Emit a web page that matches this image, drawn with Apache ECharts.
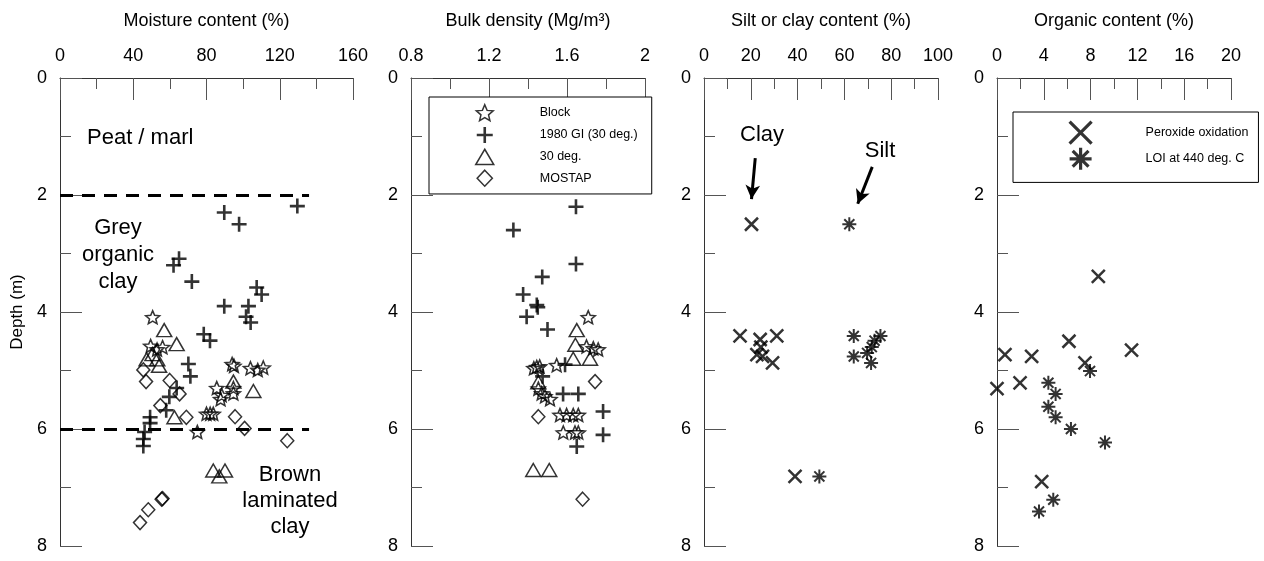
<!DOCTYPE html>
<html>
<head>
<meta charset="utf-8">
<script src="https://cdn.jsdelivr.net/npm/echarts@6/dist/echarts.min.js"></script>
<style>
  html, body { margin: 0; padding: 0; background: #fff; }
  #chart { width: 1264px; height: 561px; }
</style>
</head>
<body>
<div id="chart"></div>
<script>
// ---- Depth profiles: [value, depth in m] ----
const depthTicks = [0, 2, 4, 6, 8];

// Moisture content (%)
const moistureTicks = [0, 40, 80, 120, 160];
const moistureBlock = [[50.6,4.09],[49.5,4.58],[53,4.64],[56,4.60],[94,4.89],[95,4.92],[104,4.96],[108,4.99],[111,4.95],[85.6,5.30],[88.3,5.42],[94.7,5.39],[94.7,5.30],[87.7,5.49],[80,5.74],[82,5.74],[83.7,5.74],[75,6.05]];
const moistureGI = [[89.7,2.30],[97.8,2.50],[129.6,2.19],[65,3.09],[62,3.20],[72,3.48],[107.4,3.58],[110.1,3.70],[89.7,3.90],[102.9,3.90],[101.6,4.08],[104.1,4.18],[78.5,4.38],[81.9,4.49],[70.1,4.89],[71.2,5.10],[63.7,5.30],[59.7,5.45],[58,5.68],[49.2,5.80],[49.2,5.90],[46.2,6.05],[45.5,6.17],[45.5,6.29]];
const moisture30 = [[56.9,4.31],[63.7,4.55],[47.3,4.81],[50.5,4.72],[53.1,4.81],[54.1,4.92],[94.7,5.19],[105.6,5.35],[62.5,5.80],[83.7,6.71],[90.1,6.71],[87,6.81]];
const moistureMostap = [[45.5,4.99],[47,5.19],[59.9,5.17],[65.3,5.40],[54.8,5.60],[69,5.80],[95.6,5.79],[100.8,5.99],[124.1,6.20],[55.5,7.20],[56,7.19],[48.2,7.38],[43.7,7.60]];

// Bulk density (Mg/m3)
const densityTicks = [0.8, 1.2, 1.6, 2];
const densityBlock = [[1.709,4.09],[1.70,4.59],[1.735,4.62],[1.76,4.64],[1.43,4.96],[1.445,4.94],[1.46,4.93],[1.547,4.91],[1.453,5.31],[1.47,5.39],[1.487,5.44],[1.513,5.49],[1.564,5.76],[1.598,5.76],[1.632,5.76],[1.658,5.76],[1.581,6.06],[1.641,6.06],[1.658,6.06]];
const densityGI = [[1.646,2.20],[1.325,2.60],[1.646,3.18],[1.473,3.40],[1.375,3.70],[1.445,3.88],[1.45,3.92],[1.393,4.08],[1.50,4.30],[1.59,4.90],[1.475,5.10],[1.58,5.40],[1.658,5.40],[1.785,5.70],[1.785,6.10],[1.65,6.30]];
const density30 = [[1.65,4.31],[1.643,4.56],[1.632,4.80],[1.718,4.80],[1.453,5.2],[1.427,6.70],[1.509,6.70]];
const densityMostap = [[1.744,5.19],[1.453,5.79],[1.68,7.20]];

// Silt or clay content (%)
const fractionTicks = [0, 20, 40, 60, 80, 100];
const clayContent = [[20.3,2.50],[15.4,4.41],[31.1,4.41],[24,4.47],[24.3,4.60],[22.6,4.73],[25,4.76],[29.3,4.87],[38.9,6.81]];
const siltContent = [[62.1,2.50],[64,4.41],[64,4.76],[75.4,4.41],[72.9,4.49],[71.7,4.60],[69.7,4.70],[71.4,4.87],[49.3,6.81]];

// Organic content (%)
const organicTicks = [0, 4, 8, 12, 16, 20];
const organicPeroxide = [[8.66,3.39],[6.15,4.50],[11.5,4.65],[0.68,4.73],[2.96,4.76],[7.52,4.87],[1.97,5.21],[0,5.31],[3.82,6.90]];
const organicLOI = [[7.95,5.01],[4.39,5.21],[5.01,5.40],[4.39,5.62],[5.01,5.80],[6.32,6.00],[9.23,6.23],[4.81,7.21],[3.59,7.41]];

// Layer boundaries (m) and sample-type names
const layerBounds = [2, 6];
const sampleNames = ['Block', '1980 GI (30 deg.)', '30 deg.', 'MOSTAP'];
const organicNames = ['Peroxide oxidation', 'LOI at 440 deg. C'];

// ---- Styling ----
const FONT = '"Liberation Sans", Arial, sans-serif';
const INK = '#000';
const STAR = 'path://M0,-1L0.2645,-0.364L0.951,-0.309L0.428,0.139L0.5878,0.809L0,0.45L-0.5878,0.809L-0.428,0.139L-0.951,-0.309L-0.2645,-0.364Z';
const PLUS = 'path://M0,-1L0,1M-1,0L1,0';
const TRI = 'path://M0,-1L1.15,0.95L-1.15,0.95Z';
const DIAMOND = 'path://M0,-1L0.95,0L0,1L-0.95,0Z';
const CROSS = 'path://M-1,-1L1,1M-1,1L1,-1';
const ASTER = 'path://M0,-1L0,1M-1,0L1,0M-0.72,-0.72L0.72,0.72M-0.72,0.72L0.72,-0.72';

const hollow = (w) => ({ color: 'rgba(0,0,0,0)', borderColor: INK, borderWidth: w });
const fmt = (v) => String(+v.toFixed(2));

const grids = [
  { left: 60, top: 78, width: 293, height: 468 },
  { left: 411, top: 78, width: 234, height: 468 },
  { left: 704, top: 78, width: 234, height: 468 },
  { left: 997, top: 78, width: 234, height: 468 }
];

function xAxisFor(i, ticks, name) {
  return {
    gridIndex: i, type: 'value', position: 'top',
    min: ticks[0], max: ticks[ticks.length - 1], interval: ticks[1] - ticks[0],
    name: name, nameLocation: 'middle', nameGap: 48,
    nameTextStyle: { fontFamily: FONT, fontSize: 18, color: INK },
    axisLine: { show: true, lineStyle: { color: '#333', width: 1 } },
    axisTick: { show: true, inside: true, length: 22, lineStyle: { color: '#555', width: 1 } },
    minorTick: { show: true, splitNumber: 2, length: 11, lineStyle: { color: '#555', width: 1 } },
    axisLabel: { fontFamily: FONT, fontSize: 18, color: INK, margin: 13, formatter: fmt },
    splitLine: { show: false }, minorSplitLine: { show: false }
  };
}
function yAxisFor(i, name) {
  return {
    gridIndex: i, type: 'value', inverse: true,
    min: depthTicks[0], max: depthTicks[depthTicks.length - 1], interval: depthTicks[1] - depthTicks[0],
    name: name || '', nameLocation: 'middle', nameGap: 34, nameRotate: 90,
    nameTextStyle: { fontFamily: FONT, fontSize: 17, color: INK },
    axisLine: { show: true, lineStyle: { color: '#333', width: 1 } },
    axisTick: { show: true, inside: true, length: 22, lineStyle: { color: '#555', width: 1 } },
    minorTick: { show: true, splitNumber: 2, length: 11, lineStyle: { color: '#555', width: 1 } },
    axisLabel: { fontFamily: FONT, fontSize: 18, color: INK, margin: 13, formatter: fmt },
    splitLine: { show: false }
  };
}

function scatter(name, idx, data, symbol, size, bw, extra) {
  return Object.assign({
    type: 'scatter', name: name, xAxisIndex: idx, yAxisIndex: idx, data: data,
    symbol: symbol, symbolSize: size, itemStyle: hollow(bw), clip: false,
    emphasis: { disabled: true }, silent: true
  }, extra || {});
}

const sampleStyles = [
  { symbol: STAR, size: [14, 13], bw: 1.5 },
  { symbol: PLUS, size: [15, 15], bw: 2.6 },
  { symbol: TRI, size: [15, 13], bw: 1.5 },
  { symbol: DIAMOND, size: [13, 14], bw: 1.5 }
];
const moistureSets = [moistureBlock, moistureGI, moisture30, moistureMostap];
const densitySets = [densityBlock, densityGI, density30, densityMostap];

const series = [];
moistureSets.forEach((d, k) => {
  const st = sampleStyles[k];
  series.push(scatter(sampleNames[k], 0, d, st.symbol, st.size, st.bw));
});
// Layer boundaries in the moisture panel
series[0].markLine = {
  silent: true, symbol: ['none', 'none'], label: { show: false },
  lineStyle: { color: INK, width: 3, type: [13, 9] },
  data: layerBounds.map(b => [{ coord: [0, b] }, { coord: [136, b] }])
};
densitySets.forEach((d, k) => {
  const st = sampleStyles[k];
  series.push(scatter(sampleNames[k], 1, d, st.symbol, st.size, st.bw));
});
series.push(scatter('Clay', 2, clayContent, CROSS, 13, 2.5, {
  markLine: {
    silent: true, symbol: ['none', 'arrow'], symbolSize: [11, 14], label: { show: false },
    lineStyle: { color: INK, width: 3, type: 'solid' },
    data: [
      [{ coord: [21.9, 1.37] }, { coord: [20.3, 2.07] }],
      [{ coord: [71.9, 1.52] }, { coord: [65.7, 2.15] }]
    ]
  }
}));
series.push(scatter('Silt', 2, siltContent, ASTER, 14, 2));
series.push(scatter(organicNames[0], 3, organicPeroxide, CROSS, 13, 2.5));
series.push(scatter(organicNames[1], 3, organicLOI, ASTER, 14, 2));

const note = (s) => ({ type: 'text', silent: true, style: Object.assign({ fontFamily: FONT, fill: INK, fontSize: 22, verticalAlign: 'middle' }, s) });

const option = {
  animation: false,
  backgroundColor: '#fff',
  grid: grids,
  xAxis: [
    xAxisFor(0, moistureTicks, 'Moisture content (%)'),
    xAxisFor(1, densityTicks, 'Bulk density (Mg/m\u00b3)'),
    xAxisFor(2, fractionTicks, 'Silt or clay content (%)'),
    xAxisFor(3, organicTicks, 'Organic content (%)')
  ],
  yAxis: [yAxisFor(0, 'Depth (m)'), yAxisFor(1), yAxisFor(2), yAxisFor(3)],
  legend: [
    {
      orient: 'vertical', left: 429, top: 97,
      data: sampleNames.map((n, k) => ({ name: n, itemStyle: { borderWidth: sampleStyles[k].bw } })),
      itemWidth: 18, itemHeight: 16, itemGap: 4.2,
      padding: [7, 14, 7, 46],
      borderColor: '#000', borderWidth: 1, backgroundColor: '#fff',
      selectedMode: false,
      textStyle: { fontFamily: FONT, fontSize: 12.5, lineHeight: 14, color: INK, padding: [0, 0, 0, 41] }
    },
    {
      orient: 'vertical', left: 1013, top: 112,
      data: organicNames.map(n => ({ name: n, itemStyle: { borderWidth: 3.2 } })),
      itemWidth: 22, itemHeight: 22, itemGap: 1,
      padding: [8, 10, 11, 55],
      borderColor: '#000', borderWidth: 1, backgroundColor: '#fff',
      selectedMode: false,
      textStyle: { fontFamily: FONT, fontSize: 12.5, lineHeight: 14, color: INK, padding: [0, 0, 0, 49] }
    }
  ],
  graphic: [
    note({ x: 87, y: 138, text: 'Peat / marl' }),
    note({ x: 118, y: 255, text: 'Grey\norganic\nclay', align: 'center', lineHeight: 27 }),
    note({ x: 290, y: 501, text: 'Brown\nlaminated\nclay', align: 'center', lineHeight: 26 }),
    note({ x: 762, y: 135, text: 'Clay', align: 'center' }),
    note({ x: 880, y: 151, text: 'Silt', align: 'center' })
  ],
  series: series
};

const chart = echarts.init(document.getElementById('chart'), null, { renderer: 'canvas' });
chart.setOption(option);
</script>
</body>
</html>
